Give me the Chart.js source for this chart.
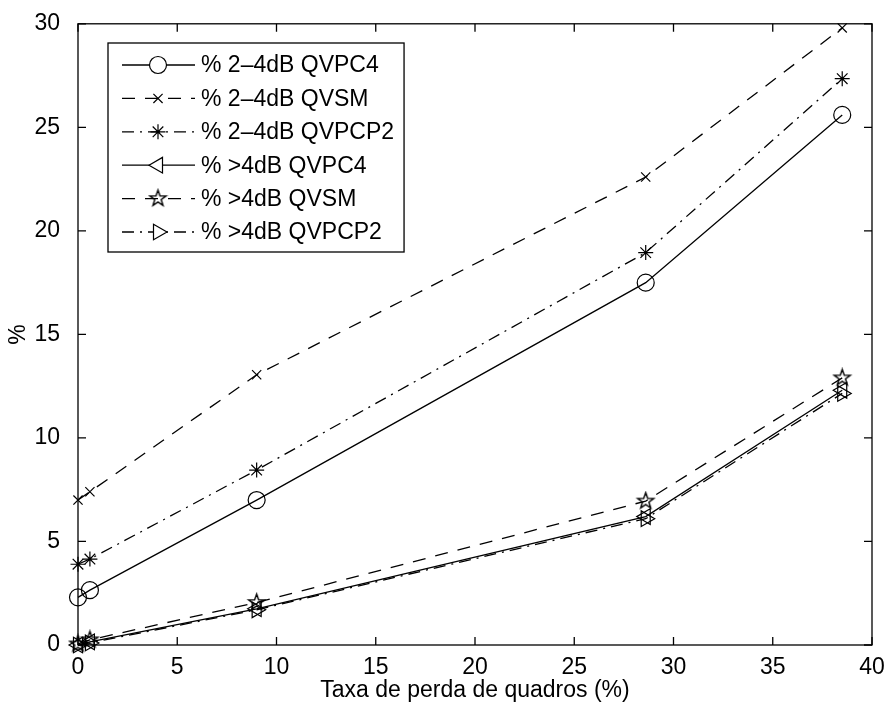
<!DOCTYPE html>
<html>
<head>
<meta charset="utf-8">
<script src="https://cdn.jsdelivr.net/npm/chart.js@4/dist/chart.umd.min.js"></script>
<style>body{margin:0;background:#fff}</style>
</head>
<body>
<canvas id="myChart" width="886" height="711"></canvas>
<script>
// taxa de perda de quadros (%)
const perda = [0, 0.6, 9, 28.6, 38.5];
// % de quadros com degradação
const qvpc4_24 = [2.3, 2.65, 7.0, 17.5, 25.6];
const qvsm_24 = [7.0, 7.4, 13.05, 22.6, 29.8];
const qvpcp2_24 = [3.9, 4.15, 8.45, 18.95, 27.35];
const qvpc4_4 = [0, 0.15, 1.75, 6.2, 12.3];
const qvsm_4 = [0.05, 0.25, 2.05, 6.95, 12.9];
const qvpcp2_4 = [0, 0.1, 1.7, 6.1, 12.15];
const xTicks = [0, 5, 10, 15, 20, 25, 30, 35, 40];
const yTicks = [0, 5, 10, 15, 20, 25, 30];

const FONT = '"Liberation Sans", Arial, Helvetica, sans-serif';
const FSIZE = 23;
const SOLID = [], DASH = [13, 10], DASHDOT = [12, 6, 2, 6];

function pentagram(r) {
    const c = document.createElement('canvas');
    const s = Math.ceil(2 * r + 4);
    c.width = s; c.height = s;
    const g = c.getContext('2d');
    g.strokeStyle = '#000';
    g.lineWidth = 1.4;
    g.beginPath();
    for (let i = 0; i < 10; i++) {
        const rad = (i % 2 === 0) ? r : r * 0.4;
        const a = -Math.PI / 2 + i * Math.PI / 5;
        const px = s / 2 + rad * Math.cos(a), py = s / 2 + rad * Math.sin(a);
        if (i === 0) g.moveTo(px, py); else g.lineTo(px, py);
    }
    g.closePath();
    g.stroke();
    return c;
}
const starImg = pentagram(8.5);

function pts(ys) { return perda.map((x, i) => ({x: x, y: ys[i]})); }

function serie(label, ys, dash, style, radius, rot) {
    return {
        label: label,
        data: pts(ys),
        showLine: true,
        borderColor: '#000',
        backgroundColor: 'rgba(0,0,0,0)',
        borderWidth: 1.3,
        borderDash: dash,
        pointStyle: style,
        pointRadius: radius,
        pointRotation: rot || 0,
        pointBorderColor: '#000',
        pointBorderWidth: 1.2,
        pointBackgroundColor: 'rgba(0,0,0,0)',
        clip: false
    };
}

const datasets = [
    serie('% 2\u20134dB QVPC4', qvpc4_24, SOLID, 'circle', 8.5),
    serie('% 2\u20134dB QVSM', qvsm_24, DASH, 'crossRot', 6.5),
    serie('% 2\u20134dB QVPCP2', qvpcp2_24, DASHDOT, 'star', 7.5),
    serie('% >4dB QVPC4', qvpc4_4, SOLID, 'triangle', 9, -90),
    serie('% >4dB QVSM', qvsm_4, DASH, starImg, 8.5),
    serie('% >4dB QVPCP2', qvpcp2_4, DASHDOT, 'triangle', 9, 90)
];

// moldura com marcas para dentro, estilo MATLAB
const frame = {
    id: 'frame',
    afterDatasetsDraw(chart) {
        const ctx = chart.ctx, a = chart.chartArea;
        const xs = chart.scales.x, ys = chart.scales.y;
        ctx.save();
        ctx.strokeStyle = '#000';
        ctx.lineWidth = 1.3;
        ctx.setLineDash([]);
        ctx.strokeRect(a.left, a.top, a.right - a.left, a.bottom - a.top);
        ctx.beginPath();
        xTicks.forEach(v => {
            const p = xs.getPixelForValue(v);
            ctx.moveTo(p, a.bottom); ctx.lineTo(p, a.bottom - 8);
            ctx.moveTo(p, a.top); ctx.lineTo(p, a.top + 8);
        });
        yTicks.forEach(v => {
            const p = ys.getPixelForValue(v);
            ctx.moveTo(a.left, p); ctx.lineTo(a.left + 8, p);
            ctx.moveTo(a.right, p); ctx.lineTo(a.right - 8, p);
        });
        ctx.stroke();
        ctx.restore();
    }
};

const legendBox = {
    id: 'legendBox',
    afterDraw(chart) {
        const ctx = chart.ctx;
        const left = 108, top = 43, rowH = 33.4, firstRow = 65;
        ctx.save();
        ctx.font = FSIZE + 'px ' + FONT;
        let w = 0;
        datasets.forEach(d => { w = Math.max(w, ctx.measureText(d.label).width); });
        const width = 201 - left + w + 10;
        const height = firstRow - top + rowH * (datasets.length - 1) + 20;
        ctx.fillStyle = '#fff';
        ctx.fillRect(left, top, width, height);
        ctx.strokeStyle = '#000';
        ctx.lineWidth = 1.3;
        ctx.setLineDash([]);
        ctx.strokeRect(left, top, width, height);
        datasets.forEach((d, i) => {
            const y = firstRow + i * rowH;
            ctx.strokeStyle = '#000';
            ctx.setLineDash(d.borderDash);
            ctx.lineWidth = d.borderWidth;
            ctx.beginPath();
            ctx.moveTo(122, y); ctx.lineTo(195, y);
            ctx.stroke();
            ctx.setLineDash([]);
            ctx.lineWidth = d.pointBorderWidth;
            ctx.fillStyle = '#fff';
            Chart.helpers.drawPoint(ctx, {
                pointStyle: d.pointStyle, radius: d.pointRadius,
                rotation: d.pointRotation, borderWidth: d.pointBorderWidth
            }, 158, y);
            ctx.fillStyle = '#000';
            ctx.textBaseline = 'middle';
            ctx.textAlign = 'left';
            ctx.fillText(d.label, 201, y + 1);
        });
        ctx.restore();
    }
};

new Chart(document.getElementById('myChart'), {
    type: 'scatter',
    data: {datasets: datasets},
    options: {
        responsive: false,
        animation: false,
        layout: {autoPadding: false, padding: {top: 8, right: 14, left: 0, bottom: 0}},
        plugins: {legend: {display: false}, tooltip: {enabled: false}},
        scales: {
            x: {
                type: 'linear', min: 0, max: 40,
                afterFit(s) { s.height = 66; },
                afterBuildTicks(s) { s.ticks = xTicks.map(v => ({value: v})); },
                grid: {display: false},
                border: {display: false},
                ticks: {color: '#000', padding: 1, maxRotation: 0, font: {family: FONT, size: FSIZE}},
                title: {display: true, text: 'Taxa de perda de quadros (%)', color: '#000',
                        padding: {top: 0, bottom: 7}, font: {family: FONT, size: FSIZE}}
            },
            y: {
                type: 'linear', min: 0, max: 30,
                afterFit(s) { s.width = 78; },
                afterBuildTicks(s) { s.ticks = yTicks.map(v => ({value: v})); },
                grid: {display: false},
                border: {display: false},
                ticks: {color: '#000', padding: 10, font: {family: FONT, size: FSIZE}},
                title: {display: true, text: '%', color: '#000',
                        padding: {top: 5, bottom: 0}, font: {family: FONT, size: FSIZE}}
            }
        }
    },
    plugins: [frame, legendBox]
});
</script>
</body>
</html>
